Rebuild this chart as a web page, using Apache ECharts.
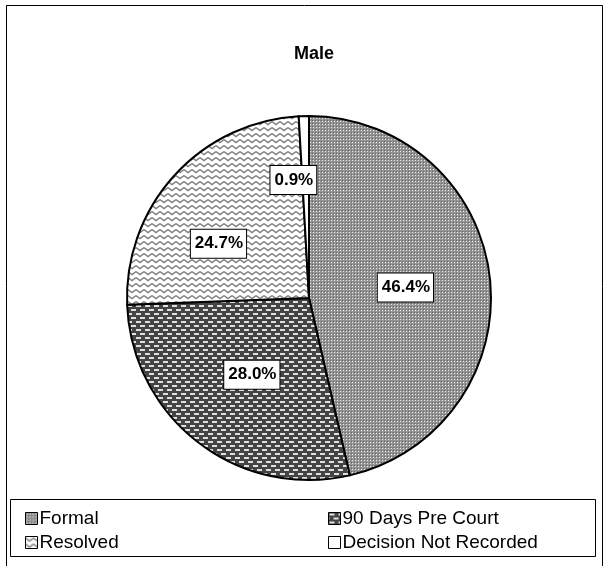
<!DOCTYPE html>
<html>
<head>
<meta charset="utf-8">
<script src="https://cdn.jsdelivr.net/npm/echarts@6/dist/echarts.min.js"></script>
<style>
  html, body { margin: 0; padding: 0; background: #fff; }
  #main { width: 605px; height: 566px; }
</style>
</head>
<body>
<div id="main"></div>
<script>
// data
const categories = ["Formal", "90 Days Pre Court", "Resolved", "Decision Not Recorded"];
const shares = [46.4, 28.0, 24.7, 0.9];
const chartTitle = "Male";

// small nudges so labels sit where the original has them (dx, dy in px)
const labelNudge = [[3, 0], [0, 2], [-21, 9], [-13, -24]];

function makeTile(w, h, draw) {
  const c = document.createElement("canvas");
  c.width = w;
  c.height = h;
  const ctx = c.getContext("2d");
  draw(ctx);
  return { image: c, repeat: "repeat" };
}

// Formal: fine gray dots
const formalFill = makeTile(3, 3, function (ctx) {
  ctx.fillStyle = "#939393";
  ctx.fillRect(0, 0, 3, 3);
  ctx.fillStyle = "#ececec";
  ctx.fillRect(1, 1, 1, 1);
  ctx.fillStyle = "#666";
  ctx.fillRect(0, 0, 1, 1);
});

// 90 days: dark with staggered white dashes
const daysFill = makeTile(9, 8, function (ctx) {
  ctx.fillStyle = "#444";
  ctx.fillRect(0, 0, 9, 8);
  ctx.fillStyle = "#e0e0e0";
  ctx.fillRect(1, 1, 5, 2);
  ctx.fillRect(5, 5, 4, 2);
  ctx.fillRect(0, 5, 1, 2);
});

// Resolved: white with gray zigzags
const resolvedFill = makeTile(8, 6, function (ctx) {
  ctx.fillStyle = "#ffffff";
  ctx.fillRect(0, 0, 8, 6);
  ctx.strokeStyle = "#808080";
  ctx.lineWidth = 1.4;
  ctx.beginPath();
  ctx.moveTo(0, 1.5);
  ctx.lineTo(4, 4.5);
  ctx.lineTo(8, 1.5);
  ctx.stroke();
});

const fills = [formalFill, daysFill, resolvedFill, "#ffffff"];

const legendText = {
  fontFamily: "Liberation Sans, Arial, sans-serif",
  fontSize: 19,
  color: "#000",
  padding: [0, 0, 0, -3]
};

const chart = echarts.init(document.getElementById("main"));

const option = {
  animation: false,
  backgroundColor: "#fff",
  title: {
    text: chartTitle,
    left: 309,
    top: 40,
    textAlign: "center",
    textStyle: {
      fontFamily: "Liberation Sans, Arial, sans-serif",
      fontWeight: "bold",
      fontSize: 18,
      color: "#000"
    }
  },
  legend: [
    {
      orient: "vertical",
      left: 20,
      top: 504,
      data: [categories[0], categories[2]],
      icon: "rect",
      itemWidth: 12,
      itemHeight: 12,
      itemGap: 5,
      itemStyle: { borderColor: "#000", borderWidth: 1 },
      textStyle: legendText,
      selectedMode: false
    },
    {
      orient: "vertical",
      left: 323,
      top: 504,
      data: [categories[1], categories[3]],
      icon: "rect",
      itemWidth: 12,
      itemHeight: 12,
      itemGap: 5,
      itemStyle: { borderColor: "#000", borderWidth: 1 },
      textStyle: legendText,
      selectedMode: false
    }
  ],
  graphic: [
    {
      type: "rect",
      shape: { x: 6.5, y: 5.5, width: 596, height: 570 },
      style: { fill: "none", stroke: "#000", lineWidth: 1 },
      silent: true,
      z: -1
    },
    {
      type: "rect",
      shape: { x: 10.5, y: 499.5, width: 585, height: 57 },
      style: { fill: "none", stroke: "#000", lineWidth: 1 },
      silent: true,
      z: -1
    }
  ],
  series: [
    {
      type: "pie",
      center: [309, 298],
      radius: 182,
      startAngle: 90,
      clockwise: true,
      silent: true,
      emphasis: { disabled: true },
      itemStyle: { borderColor: "#000", borderWidth: 2 },
      label: {
        show: true,
        position: "inside",
        formatter: function (p) { return p.value.toFixed(1) + "%"; },
        fontFamily: "Liberation Sans, Arial, sans-serif",
        fontWeight: "bold",
        fontSize: 17,
        color: "#000",
        backgroundColor: "#fff",
        borderColor: "#000",
        borderWidth: 1,
        padding: [6, 3, 5, 4]
      },
      labelLine: { show: false },
      labelLayout: function (p) {
        const n = labelNudge[p.dataIndex];
        return { dx: n[0], dy: n[1] };
      },
      data: categories.map(function (name, i) {
        return { name: name, value: shares[i], itemStyle: { color: fills[i] } };
      })
    }
  ]
};

chart.setOption(option);
</script>
</body>
</html>
